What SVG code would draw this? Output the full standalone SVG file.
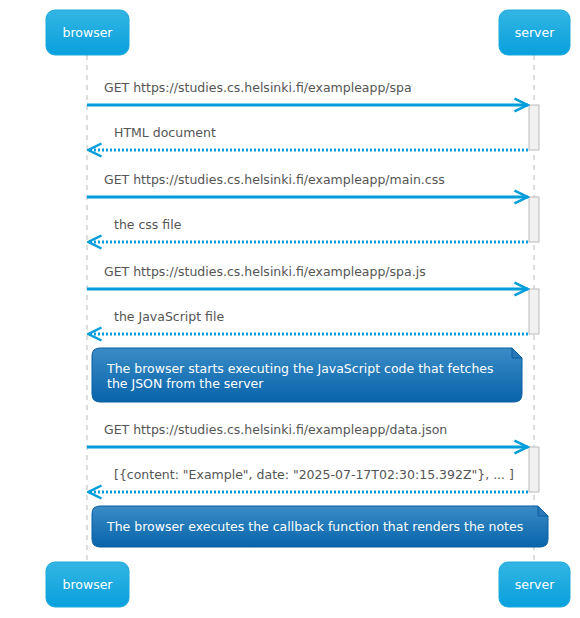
<svg xmlns="http://www.w3.org/2000/svg" width="580" height="618" viewBox="0 0 580 618">
<defs>
<linearGradient id="pg" x1="0" y1="0" x2="0" y2="1"><stop offset="0" stop-color="#33b5e3"/><stop offset="1" stop-color="#08a0dc"/></linearGradient>
<linearGradient id="ng" x1="0" y1="0" x2="0" y2="1"><stop offset="0" stop-color="#3a8cc6"/><stop offset="1" stop-color="#0864aa"/></linearGradient>
<marker id="af" viewBox="0 0 16 16" refX="14.5" refY="8" markerWidth="16" markerHeight="16" markerUnits="userSpaceOnUse" orient="auto"><path d="M1,1.5 L14,8 L1,14.5" fill="none" stroke="#039ddb" stroke-width="2.5"/></marker>
</defs>
<style>
text{font-family:"DejaVu Sans",Verdana,sans-serif;}
.pbox{fill:url(#pg);stroke:#1aa9de;stroke-width:1;}
.pt{fill:#fff;font-size:12.5px;text-anchor:middle;}
.life{stroke:#bbb;stroke-width:1;stroke-dasharray:5,5;}
.act{fill:#f1f1f1;stroke:#bbb;stroke-width:1;}
.msg{stroke:#039ddb;stroke-width:3;fill:none;}
.ret{stroke:#039ddb;stroke-width:3;fill:none;stroke-dasharray:2,2;}
.mt{fill:#555;font-size:12.5px;}
.note{fill:url(#ng);stroke:#0a5fa3;stroke-width:1;}
.nt{fill:#fff;font-size:12.5px;}
.fold{fill:#2a78b8;stroke:#0a5fa3;stroke-width:1;}
</style>
<g id="lifelines">
<line class="life" x1="87" y1="55" x2="87" y2="562"/>
<line class="life" x1="534" y1="55" x2="534" y2="562"/>
</g>
<g id="participant-browser-top"><rect class="pbox" x="46" y="10" width="83" height="45" rx="9"/><text class="pt" x="87.5" y="37">browser</text></g>
<g id="participant-server-top"><rect class="pbox" x="499" y="10" width="71" height="45" rx="9"/><text class="pt" x="534.5" y="37">server</text></g>
<g id="participant-browser-bottom"><rect class="pbox" x="46" y="562" width="83" height="45" rx="9"/><text class="pt" x="87.5" y="589">browser</text></g>
<g id="participant-server-bottom"><rect class="pbox" x="499" y="562" width="71" height="45" rx="9"/><text class="pt" x="534.5" y="589">server</text></g>
<g id="activations">
<rect class="act" x="529" y="105" width="10" height="45"/>
<rect class="act" x="529" y="197" width="10" height="45"/>
<rect class="act" x="529" y="289" width="10" height="45"/>
<rect class="act" x="529" y="447" width="10" height="45"/>
</g>
<g id="connectors">
<line class="msg" x1="87" y1="105" x2="528" y2="105" marker-end="url(#af)"/>
<line class="ret" x1="528" y1="150" x2="88" y2="150" marker-end="url(#af)"/>
<line class="msg" x1="87" y1="197" x2="528" y2="197" marker-end="url(#af)"/>
<line class="ret" x1="528" y1="242" x2="88" y2="242" marker-end="url(#af)"/>
<line class="msg" x1="87" y1="289" x2="528" y2="289" marker-end="url(#af)"/>
<line class="ret" x1="528" y1="334" x2="88" y2="334" marker-end="url(#af)"/>
<line class="msg" x1="87" y1="447" x2="528" y2="447" marker-end="url(#af)"/>
<line class="ret" x1="528" y1="492" x2="88" y2="492" marker-end="url(#af)"/>
</g>
<g id="labels">
<text class="mt" x="104" y="92">GET https://studies.cs.helsinki.fi/exampleapp/spa</text>
<text class="mt" x="114" y="137">HTML document</text>
<text class="mt" x="104" y="184">GET https://studies.cs.helsinki.fi/exampleapp/main.css</text>
<text class="mt" x="114" y="229">the css file</text>
<text class="mt" x="104" y="276">GET https://studies.cs.helsinki.fi/exampleapp/spa.js</text>
<text class="mt" x="114" y="321">the JavaScript file</text>
<text class="mt" x="104" y="434">GET https://studies.cs.helsinki.fi/exampleapp/data.json</text>
<text class="mt" x="114" y="479">[{content: "Example", date: "2025-07-17T02:30:15.392Z"}, ... ]</text>
</g>
<g id="note1">
<path class="note" d="M100,348 L512,348 L522,358 L522,394 Q522,402 514,402 L100,402 Q92,402 92,394 L92,356 Q92,348 100,348 Z"/>
<path class="fold" d="M512,348 L512,358 L522,358 Z"/>
<text class="nt" x="107" y="373">The browser starts executing the JavaScript code that fetches</text>
<text class="nt" x="107" y="388">the JSON from the server</text>
</g>
<g id="note2">
<path class="note" d="M100,506 L538,506 L548,516 L548,539 Q548,547 540,547 L100,547 Q92,547 92,539 L92,514 Q92,506 100,506 Z"/>
<path class="fold" d="M538,506 L538,516 L548,516 Z"/>
<text class="nt" x="107" y="531">The browser executes the callback function that renders the notes</text>
</g>
</svg>
